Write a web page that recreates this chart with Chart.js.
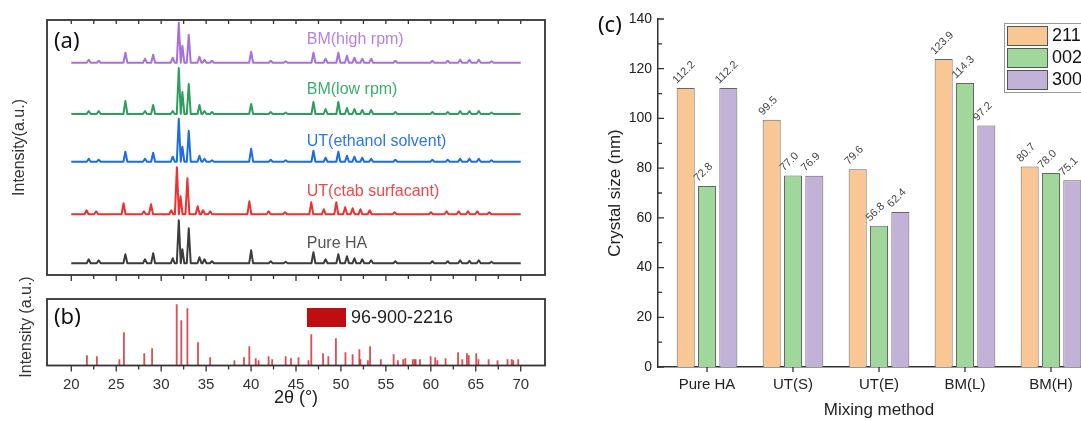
<!DOCTYPE html>
<html>
<head>
<meta charset="utf-8">
<script src="https://cdn.jsdelivr.net/npm/chart.js@4.4.1/dist/chart.umd.min.js"></script>
<style>
  html, body { margin: 0; padding: 0; background: #fff; }
  body { position: relative; width: 1081px; height: 421px; overflow: hidden; }
  canvas { position: absolute; }
  #xrd { left: 0; top: 0; }
  #ref { left: 0; top: 260px; }
  #size { left: 590px; top: 0; }
</style>
</head>
<body>
<canvas id="xrd" width="560" height="290"></canvas>
<canvas id="ref" width="560" height="161"></canvas>
<canvas id="size" width="520" height="421"></canvas>
<script>
const FONT = "'Liberation Sans', Arial, sans-serif";
const LETTER_FONT = "'Noto Sans', 'Open Sans', sans-serif";

// ---- (a) XRD patterns, listed bottom to top ----
const sampleNames = ["Pure HA", "UT(ctab surfacant)", "UT(ethanol solvent)", "BM(low rpm)", "BM(high rpm)"];
const peakPos = [21.94, 23.05, 26.02, 28.2, 29.11, 31.29, 31.96, 32.36, 33.07, 34.26, 34.82, 35.65, 40.01, 42.19, 43.85,
  46.94, 48.29, 49.71, 50.67, 51.5, 52.37, 53.36, 56.05, 60.17, 61.88, 63.26, 64.29, 65.33, 66.75];
const peakPosCtab = [21.7, 22.77, 25.82, 28.08, 28.87, 31.12, 31.75, 32.16, 32.92, 34.06, 34.66, 35.45, 39.81, 41.95, 43.77,
  46.7, 48.09, 49.48, 50.47, 51.3, 52.17, 53.2, 55.97, 60.01, 61.75, 63.1, 64.13, 65.17, 66.51];
const hPure  = [4, 3, 9, 4, 10, 5, 43, 14, 35, 6, 4, 2, 13, 2, 1.5, 11, 4, 9, 7, 5, 4, 3, 2, 2, 2, 3, 2.5, 3, 1.5];
const hCtab  = [4, 3, 11, 3, 10, 4, 47, 18, 36, 8, 4, 3, 13, 3, 2, 12, 5, 12, 7, 6, 5, 4, 2, 2, 3, 3, 3, 3, 2];
const hEth   = [3, 2, 10, 3, 9, 5, 43, 15, 31, 6, 3, 1.5, 13, 2, 1.5, 11, 4, 10, 6, 5, 4, 3, 2, 2, 2, 3, 3, 3, 1.5];
const hLow   = [3, 3, 13, 3, 9, 3, 46, 22, 30, 9, 3, 2, 10, 2, 1.5, 12, 5, 12, 6, 5, 4, 4, 2, 2, 2, 3, 3, 3, 1.5];
const hHigh  = [3, 2, 10, 4, 8, 5, 40, 17, 28, 6, 3, 2, 11, 2, 1.5, 10, 4, 10, 7, 5, 4, 4, 2, 2, 2, 3, 3, 3, 1.5];
const stackBase = [11.7, 60.7, 113.3, 161, 212.3];
const xTicks = [20, 25, 30, 35, 40, 45, 50, 55, 60, 65, 70];

// ---- (b) reference card 96-900-2216 ----
const refPos = [21.74, 22.85, 25.35, 25.86, 28.12, 28.99, 31.73, 32.24, 32.92, 34.1, 35.45, 38.15, 39.22, 39.81, 40.52,
  40.84, 41.95, 42.35, 43.85, 44.44, 45.28, 46.39, 46.7, 48.01, 48.6, 49.44, 50.5, 51.3, 52.05, 52.17, 53.0, 53.24,
  54.43, 55.86, 56.33, 56.93, 57.16, 57.99, 58.19, 58.31, 58.79, 59.98, 60.49, 60.73, 61.64, 63.03, 63.5, 64.02,
  64.22, 65.05, 65.29, 66.43, 67.42, 68.53, 69.0, 69.17, 69.72];
const refInt = [10, 9, 6, 33, 12, 17, 61, 45, 57, 23, 8, 5, 8, 19, 7,
  5, 9, 6, 9, 7, 8, 5, 31, 12, 9, 27, 13, 11, 16, 6, 5, 19,
  6, 11, 5, 6, 7, 6, 6, 6, 6, 9, 8, 5, 7, 13, 6, 12,
  10, 12, 6, 6, 5, 6, 6, 5, 6];

// ---- (c) crystal size ----
const methods = ["Pure HA", "UT(S)", "UT(E)", "BM(L)", "BM(H)"];
const planes = ["211", "002", "300"];
const size211 = [112.2, 99.5, 79.6, 123.9, 80.7];
const size002 = [72.8, 77.0, 56.8, 114.3, 78.0];
const size300 = [112.2, 76.9, 62.4, 97.2, 75.1];

const traceColors = ["#3c3c3c", "#ee3030", "#1a6de6", "#2e9e5e", "#a96fdb"];
const labelColors = ["#555555", "#f04848", "#2b78e4", "#3dae6e", "#b584e3"];
const barColors = ["#f9c794", "#a0d79b", "#c3b2d7"];

function trace(pos, h, base) {
  const pts = [{x: 20, y: base}];
  pos.forEach((p, i) => {
    pts.push({x: p - 0.22, y: base}, {x: p, y: base + h[i]}, {x: p + 0.22, y: base});
  });
  pts.push({x: 70, y: base});
  return pts;
}

// box + ticks for panels (a) and (b)
function frameTicks(topIn, bottomOut) {
  return {
    id: "frameTicks",
    afterDraw(chart) {
      const {ctx, chartArea: a, scales: {x}} = chart;
      ctx.save();
      ctx.strokeStyle = "#333";
      ctx.lineWidth = 1.8;
      ctx.strokeRect(a.left, a.top, a.right - a.left, a.bottom - a.top);
      ctx.lineWidth = 1.3;
      ctx.beginPath();
      for (let v = 20; v <= 70; v += 2.5) {
        const px = x.getPixelForValue(v);
        const major = v % 5 === 0;
        if (topIn) { ctx.moveTo(px, a.top); ctx.lineTo(px, a.top + 4); }
        if (bottomOut) { ctx.moveTo(px, a.bottom); ctx.lineTo(px, a.bottom + (major ? 6 : 4)); }
      }
      ctx.stroke();
      ctx.restore();
    }
  };
}

const noHover = { legend: { display: false }, tooltip: { enabled: false } };

// ---------- (a) ----------
const heights = [hPure, hCtab, hEth, hLow, hHigh];
const labelY = [31, 83, 133, 185, 235];

new Chart(document.getElementById("xrd"), {
  type: "line",
  data: {
    datasets: sampleNames.map((name, i) => ({
      label: name,
      data: trace(i === 1 ? peakPosCtab : peakPos, heights[i], stackBase[i]),
      borderColor: traceColors[i],
      borderWidth: 2,
      borderJoinStyle: "round",
      pointRadius: 0,
      tension: 0
    }))
  },
  options: {
    responsive: false,
    animation: false,
    events: [],
    layout: { padding: { top: 20, right: 15, left: 0, bottom: 0 } },
    plugins: noHover,
    scales: {
      x: {
        type: "linear", min: 17.3, max: 72.7,
        grid: { display: false, drawTicks: false },
        border: { display: false },
        ticks: { display: false },
        afterFit: s => { s.height = 15; }
      },
      y: {
        min: 0, max: 255,
        grid: { display: false, drawTicks: false },
        border: { display: false },
        ticks: { display: false },
        title: { display: true, text: "Intensity(a.u.)", color: "#333", font: { family: FONT, size: 16 }, padding: { top: 10, bottom: 0 } },
        afterFit: s => { s.width = 47; }
      }
    }
  },
  plugins: [frameTicks(true, true), {
    id: "labelsA",
    afterDraw(chart) {
      const {ctx, scales: {x, y}} = chart;
      ctx.save();
      ctx.textBaseline = "middle";
      ctx.textAlign = "left";
      ctx.font = "16px " + FONT;
      sampleNames.forEach((n, i) => {
        ctx.fillStyle = labelColors[i];
        ctx.fillText(n, x.getPixelForValue(46.2), y.getPixelForValue(labelY[i]));
      });
      ctx.fillStyle = "#111";
      ctx.font = "22px " + LETTER_FONT;
      ctx.fillText("(a)", 54, 42);
      ctx.restore();
    }
  }]
});

// ---------- (b) ----------
new Chart(document.getElementById("ref"), {
  type: "bar",
  data: {
    datasets: [{
      label: "96-900-2216",
      data: refPos.map((p, i) => ({x: p, y: refInt[i]})),
      backgroundColor: "rgba(205, 40, 48, 0.8)",
      barThickness: 1.2
    }]
  },
  options: {
    responsive: false,
    animation: false,
    events: [],
    layout: { padding: { top: 39, right: 15, left: 0, bottom: 0 } },
    plugins: noHover,
    scales: {
      x: {
        type: "linear", min: 17.3, max: 72.7, offset: false,
        grid: { display: false, drawTicks: false },
        border: { display: false },
        afterBuildTicks: s => { s.ticks = xTicks.map(v => ({value: v})); },
        ticks: { color: "#333", font: { family: FONT, size: 15 }, padding: 10, maxRotation: 0 },
        title: { display: true, text: "2θ (°)", color: "#222", font: { family: FONT, size: 18 }, padding: { top: 0, bottom: 12 } },
        afterFit: s => { s.height = 55.5; }
      },
      y: {
        min: 0, max: 66.5,
        grid: { display: false, drawTicks: false },
        border: { display: false },
        ticks: { display: false },
        afterFit: s => { s.width = 47; }
      }
    }
  },
  plugins: [frameTicks(false, true), {
    id: "labelsB",
    afterDraw(chart) {
      const {ctx} = chart;
      ctx.save();
      ctx.fillStyle = "#111";
      ctx.font = "22px " + LETTER_FONT;
      ctx.textBaseline = "middle";
      ctx.fillText("(b)", 54, 58);
      // legend
      ctx.fillStyle = "#c00d12";
      ctx.fillRect(307, 48, 39, 19);
      ctx.fillStyle = "#222";
      ctx.font = "18px " + FONT;
      ctx.fillText("96-900-2216", 351, 58);
      // rotated y title (too long for the short axis)
      ctx.translate(27, 67);
      ctx.rotate(-Math.PI / 2);
      ctx.textAlign = "center";
      ctx.fillStyle = "#333";
      ctx.font = "16px " + FONT;
      ctx.fillText("Intensity (a.u.)", 0, 0);
      ctx.restore();
    }
  }]
});

// ---------- (c) ----------
const sizeSets = [size211, size002, size300];
new Chart(document.getElementById("size"), {
  type: "bar",
  data: {
    datasets: planes.map((p, i) => ({
      label: p,
      data: sizeSets[i].map((v, j) => ({x: j + 1, y: v})),
      backgroundColor: barColors[i],
      borderColor: "#666",
      borderWidth: 1,
      categoryPercentage: 0.744,
      barPercentage: 0.845
    }))
  },
  options: {
    responsive: false,
    animation: false,
    events: [],
    layout: { padding: { top: 19, right: 10, left: 0, bottom: 0 } },
    plugins: noHover,
    scales: {
      x: {
        type: "linear", min: 0.43, max: 5.57, offset: false,
        grid: { display: false, drawTicks: false },
        border: { display: true, color: "#333", width: 1.5 },
        afterBuildTicks: s => { s.ticks = methods.map((m, i) => ({value: i + 1})); },
        ticks: { autoSkip: false, maxRotation: 0, color: "#222", font: { family: FONT, size: 15 }, padding: 9,
          callback: v => methods[v - 1] },
        title: { display: true, text: "Mixing method", color: "#222", font: { family: FONT, size: 17 }, padding: { top: 0, bottom: 0 } },
        afterFit: s => { s.height = 54; }
      },
      y: {
        min: 0, max: 140,
        grid: { display: false, drawTicks: false },
        border: { display: true, color: "#333", width: 1.5 },
        ticks: { stepSize: 20, color: "#222", font: { family: FONT, size: 14 }, padding: 6 },
        title: { display: true, text: "Crystal size (nm)", color: "#222", font: { family: FONT, size: 17 }, padding: { top: 15, bottom: 0 } },
        afterFit: s => { s.width = 68; }
      }
    }
  },
  plugins: [{
    id: "decorC",
    afterDraw(chart) {
      const {ctx, chartArea: a, scales: {x, y}} = chart;
      ctx.save();
      // inward y ticks, outward x ticks
      ctx.strokeStyle = "#333";
      ctx.lineWidth = 1.3;
      ctx.beginPath();
      for (let v = 0; v <= 140; v += 10) {
        const py = y.getPixelForValue(v);
        ctx.moveTo(a.left, py);
        ctx.lineTo(a.left + (v % 20 === 0 ? 6 : 4), py);
      }
      methods.forEach((m, i) => {
        const px = x.getPixelForValue(i + 1);
        ctx.moveTo(px, a.bottom);
        ctx.lineTo(px, a.bottom + 5);
      });
      ctx.stroke();
      // value labels
      ctx.font = "11px " + FONT;
      ctx.fillStyle = "#444";
      ctx.textAlign = "left";
      ctx.textBaseline = "alphabetic";
      chart.data.datasets.forEach((ds, i) => {
        chart.getDatasetMeta(i).data.forEach((bar, j) => {
          ctx.save();
          ctx.translate(bar.x - 9, bar.y - 4);
          ctx.rotate(-Math.PI / 4);
          ctx.fillText(sizeSets[i][j].toFixed(1), 0, 0);
          ctx.restore();
        });
      });
      // legend
      ctx.strokeStyle = "#999";
      ctx.lineWidth = 1;
      ctx.strokeRect(414.5, 23.5, 95, 69);
      ctx.font = "18px " + FONT;
      ctx.textBaseline = "middle";
      planes.forEach((p, i) => {
        const top = 26 + i * 22;
        ctx.fillStyle = barColors[i];
        ctx.fillRect(417, top, 40, 19);
        ctx.strokeStyle = "#555";
        ctx.strokeRect(417.5, top + 0.5, 40, 19);
        ctx.fillStyle = "#111";
        ctx.fillText(p, 462, top + 10);
      });
      // panel letter
      ctx.font = "22px " + LETTER_FONT;
      ctx.fillStyle = "#111";
      ctx.fillText("(c)", 8, 26);
      ctx.restore();
    }
  }]
});
</script>
</body>
</html>
